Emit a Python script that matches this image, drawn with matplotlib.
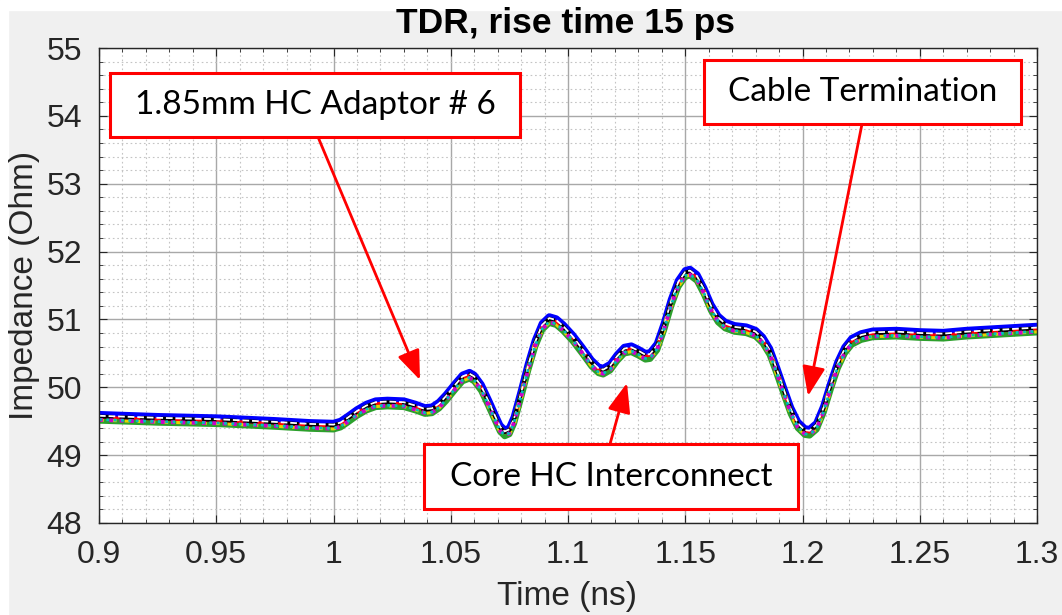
import matplotlib
matplotlib.use("Agg")
import matplotlib.pyplot as plt
from matplotlib.patches import Rectangle
from matplotlib.ticker import MultipleLocator
import numpy as np

# TDR trace (ns, Ohm)
time_ns = [0.900, 0.925, 0.950, 0.975, 0.990, 1.000, 1.003, 1.006, 1.010, 1.014,
           1.018, 1.023, 1.030, 1.035, 1.039, 1.042, 1.045, 1.048, 1.052, 1.055,
           1.058, 1.060, 1.063, 1.066, 1.069, 1.071, 1.073, 1.075, 1.077, 1.080,
           1.083, 1.086, 1.089, 1.092, 1.095, 1.098, 1.102, 1.106, 1.110, 1.113,
           1.115, 1.118, 1.121, 1.124, 1.127, 1.130, 1.133, 1.135, 1.138, 1.141,
           1.144, 1.147, 1.150, 1.152, 1.155, 1.158, 1.161, 1.164, 1.167, 1.171,
           1.176, 1.180, 1.183, 1.186, 1.189, 1.192, 1.195, 1.198, 1.201, 1.203,
           1.206, 1.209, 1.212, 1.215, 1.218, 1.221, 1.225, 1.230, 1.240, 1.250,
           1.260, 1.270, 1.280, 1.290, 1.300]
impedance = [49.56, 49.53, 49.51, 49.47, 49.44, 49.43, 49.46, 49.53, 49.63, 49.71,
             49.76, 49.77, 49.76, 49.71, 49.66, 49.67, 49.74, 49.85, 50.02, 50.14,
             50.18, 50.14, 50.00, 49.78, 49.55, 49.40, 49.33, 49.36, 49.52, 49.90,
             50.30, 50.65, 50.90, 51.00, 50.97, 50.88, 50.73, 50.55, 50.36, 50.26,
             50.24, 50.30, 50.44, 50.55, 50.57, 50.52, 50.46, 50.47, 50.60, 50.90,
             51.25, 51.53, 51.68, 51.70, 51.62, 51.42, 51.18, 51.01, 50.92, 50.87,
             50.85, 50.80, 50.70, 50.53, 50.25, 49.95, 49.66, 49.45, 49.35, 49.34,
             49.43, 49.68, 50.02, 50.33, 50.55, 50.68, 50.75, 50.79, 50.80, 50.78,
             50.77, 50.80, 50.82, 50.84, 50.86]

# the adaptor measurements sit almost on top of each other; small per-trace shifts
trace_shift = [0.04, -0.05, -0.03, 0.0, 0.01, 0.02, -0.04, -0.035]
trace_color = ["#0000ff", "#2ca02c", "#e6d200", "#ff0000", "k", "w", "#cc00cc", "#00bfbf"]
trace_style = ["-", "-", ":", "-", "--", "--", ":", ":"]
trace_width = [5.0, 4.5, 3.5, 2.0, 2.8, 1.3, 2.8, 2.0]

xticks = [0.9, 0.95, 1.0, 1.05, 1.1, 1.15, 1.2, 1.25, 1.3]
xticklabels = ["0.9", "0.95", "1", "1.05", "1.1", "1.15", "1.2", "1.25", "1.3"]
yticks = [48, 49, 50, 51, 52, 53, 54, 55]

W, H = 1062, 615
fig = plt.figure(figsize=(W / 100, H / 100), dpi=100, facecolor="#f0f0f0")
fig.patches.append(Rectangle((0, 1 - 10 / H), 1, 10 / H, transform=fig.transFigure,
                             color="white", zorder=-1))
fig.patches.append(Rectangle((0, 0), 8 / W, 1, transform=fig.transFigure,
                             color="white", zorder=-1))

ax = fig.add_axes([99 / W, (H - 523) / H, (1037 - 99) / W, (523 - 48) / H])
base = np.array(impedance)
for dy, c, ls, lw in zip(trace_shift, trace_color, trace_style, trace_width):
    ax.plot(time_ns, base + dy, color=c, ls=ls, lw=lw,
            solid_joinstyle="round", dash_joinstyle="round")

ax.set_xlim(0.9, 1.3)
ax.set_ylim(48, 55)
ax.set_xticks(xticks)
ax.set_xticklabels(xticklabels)
ax.set_yticks(yticks)
ax.xaxis.set_minor_locator(MultipleLocator(0.01))
ax.yaxis.set_minor_locator(MultipleLocator(0.2))
ax.grid(which="major", color="#a8a8a8", lw=1.0)
ax.grid(which="minor", color="#c4c4c4", lw=0.8, ls=(0, (1.5, 2.5)))
ax.set_axisbelow(True)
ax.tick_params(which="both", direction="in", top=True, right=True,
               colors="#262626", labelsize=23)
ax.tick_params(which="major", length=6, pad=12)
ax.tick_params(which="minor", length=3)
for lab in ax.get_xticklabels() + ax.get_yticklabels():
    lab.set_fontfamily("Liberation Sans")
for sp in ax.spines.values():
    sp.set_color("#262626")
    sp.set_linewidth(1.0)

fig.text(566 / W, 1 - 23 / H, "TDR, rise time 15 ps", ha="center", va="center",
         fontsize=25.5, fontweight="bold", family="Liberation Sans")
fig.text(567 / W, 1 - 597 / H, "Time (ns)", ha="center", va="center",
         fontsize=24, color="#262626", family="Liberation Sans")
fig.text(25 / W, 1 - 285 / H, "Impedance (Ohm)", ha="center", va="center",
         rotation=90, fontsize=24, color="#262626", family="Liberation Sans")


def px(x, y):
    # screenshot pixel -> data coords, used only for callout placement
    return 0.9 + (x - 99) / (1037 - 99) * 0.4, 55 - (y - 48) / (523 - 48) * 7


def callout(text, x0, y0, x1, y1, tail, tip):
    ax.annotate("", xy=px(*tip), xytext=px(*tail), annotation_clip=False,
                arrowprops=dict(arrowstyle="-|>,head_length=0.9,head_width=0.35",
                                color="red", lw=2, mutation_scale=20,
                                shrinkA=0, shrinkB=0), zorder=6)
    bx0, by0 = px(x0, y1)
    bx1, by1 = px(x1, y0)
    ax.add_patch(Rectangle((bx0, by0), bx1 - bx0, by1 - by0, facecolor="white",
                           edgecolor="red", lw=2.2, zorder=7, clip_on=False))
    cx, cy = px((x0 + x1) / 2, (y0 + y1) / 2)
    ax.text(cx, cy, text, ha="center", va="center", fontsize=24, family="Lato",
            color="black", zorder=8)


callout("1.85mm HC Adaptor # 6", 110, 73, 520, 137, (318, 137), (420, 380))
callout("Core HC Interconnect", 424, 444, 798, 509, (610, 444), (627, 383))
callout("Cable Termination", 704, 60, 1021, 124, (862, 124), (808, 396))

fig.savefig("out.png", dpi=100, facecolor=fig.get_facecolor())
